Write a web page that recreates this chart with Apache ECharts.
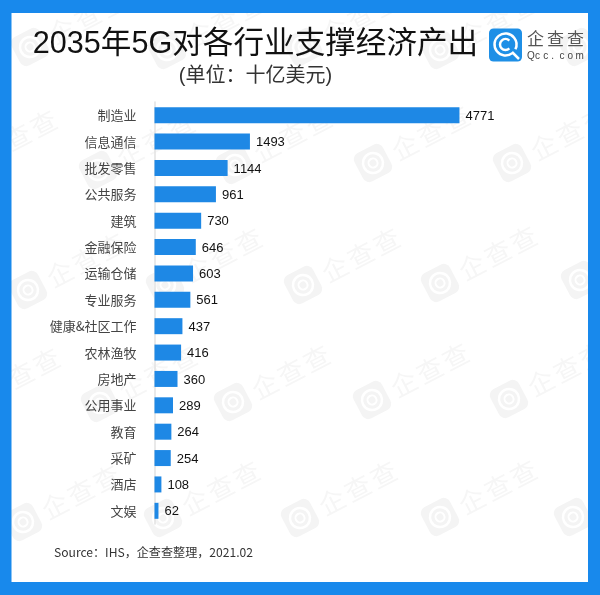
<!DOCTYPE html>
<html lang="zh">
<head>
<meta charset="UTF-8">
<title>2035年5G对各行业支撑经济产出</title>
<script src="https://cdn.jsdelivr.net/npm/echarts@6/dist/echarts.min.js"></script>
<style>
html,body{margin:0;padding:0;background:#1889ec;}
#chart{width:600px;height:595px;}
</style>
</head>
<body>
<div id="chart"></div>
<script>
var categories = ['制造业','信息通信','批发零售','公共服务','建筑','金融保险','运输仓储','专业服务','健康&社区工作','农林渔牧','房地产','公用事业','教育','采矿','酒店','文娱'];
var values = [4771,1493,1144,961,730,646,603,561,437,416,360,289,264,254,108,62];

var CJK = '"Noto Sans CJK SC","Noto Sans",sans-serif';
var LATIN = '"Liberation Sans","Noto Sans CJK SC",sans-serif';
var frameBlue = '#1889ec';
var barBlue = '#1e88e5';

// 水印位置
var marks = [
    [30,47],[167,50],[303,47],[440,50],[578,47],
    [-40,167],[98,170],[235,165],[373,163],[512,163],
    [28,290],[165,285],[303,285],[440,283],[580,280],
    [-37,405],[100,403],[233,402],[372,400],[509,399],
    [23,522],[163,518],[300,518],[440,517],[573,517]
];

// zrender没有字间距，逐字摆放
function spaced(str, x, y, step, font, fill, z){
    return str.split('').map(function(ch, i){
        return {type:'text', z:z, silent:true, style:{x:x + i*step, y:y, text:ch, font:font, fill:fill, verticalAlign:'middle'}};
    });
}

function watermark(p){
    return {
        type:'group', x:p[0], y:p[1], rotation:0.48, silent:true,
        children:[
            {type:'rect', z:-5, shape:{x:-16,y:-16,width:32,height:32,r:7}, style:{fill:'#f4f4f4'}},
            {type:'circle', z:-4, shape:{cx:0,cy:0,r:10}, style:{fill:'none',stroke:'#fff',lineWidth:2.5}},
            {type:'circle', z:-4, shape:{cx:0,cy:0,r:4.5}, style:{fill:'none',stroke:'#fff',lineWidth:2}}
        ].concat(spaced('企查查', 23, 0, 29, '26px '+CJK, '#f6f6f6', -5))
    };
}

var frame = [
    {x:0,y:0,width:600,height:13},
    {x:0,y:582,width:600,height:13},
    {x:0,y:0,width:11.5,height:595},
    {x:588,y:0,width:12,height:595}
].map(function(s){
    return {type:'rect', z:-3, silent:true, shape:s, style:{fill:frameBlue}};
});

var graphics = [
    {type:'rect', z:-10, silent:true, shape:{x:0,y:0,width:600,height:595}, style:{fill:'#fff'}}
].concat(marks.map(watermark)).concat(frame).concat([
    {type:'text', z:5, style:{x:255.5,y:45,text:'2035年5G对各行业支撑经济产出',font:'30.6px '+LATIN,fill:'#111',align:'center',verticalAlign:'middle'}},
    {type:'text', z:5, style:{x:255.5,y:76.5,text:'(单位：十亿美元)',font:'20px '+LATIN,fill:'#333',align:'center',verticalAlign:'middle'}},
    {type:'text', z:5, style:{x:54,y:552.5,text:'Source：IHS，企查查整理，2021.02',font:'12.1px '+CJK,fill:'#333',verticalAlign:'middle'}},
    // logo
    {type:'rect', z:5, shape:{x:489,y:28.5,width:33,height:33,r:4.5}, style:{fill:'#1e8fe6'}},
    {type:'arc', z:6, shape:{cx:505.5,cy:44.5,r:11,startAngle:0.9,endAngle:0.45,clockwise:true}, style:{fill:'none',stroke:'#fff',lineWidth:2.5}},
    {type:'arc', z:6, shape:{cx:505.5,cy:44.5,r:5.5,startAngle:0.8,endAngle:-0.8,clockwise:true}, style:{fill:'none',stroke:'#fff',lineWidth:2.5}},
    {type:'line', z:6, shape:{x1:512,y1:52,x2:519,y2:59}, style:{stroke:'#fff',lineWidth:2.5}}
]).concat(spaced('企查查', 527, 39, 20, '17px '+CJK, '#555', 5))
  .concat(spaced('Qcc.com', 527, 56, 8.1, '10px "Liberation Sans",sans-serif', '#444', 5));

var chart = echarts.init(document.getElementById('chart'));
chart.setOption({
    animation:false,
    backgroundColor:'#fff',
    graphic:graphics,
    grid:{left:154.5, top:102, width:319.6, height:422},
    xAxis:{type:'value', min:0, max:5000, show:false},
    yAxis:{
        type:'category', data:categories, inverse:true,
        axisLine:{lineStyle:{color:'#e2e2e2',width:1.5}},
        axisTick:{show:false},
        axisLabel:{margin:18, fontFamily:CJK, fontSize:13, color:'#444', padding:[8,0,0,0]}
    },
    series:[{
        type:'bar', data:values, barWidth:16,
        itemStyle:{color:barBlue},
        label:{show:true, position:'right', distance:6, offset:[0,1], color:'#111', fontFamily:'"Liberation Sans",sans-serif', fontSize:13}
    }]
});
</script>
</body>
</html>
